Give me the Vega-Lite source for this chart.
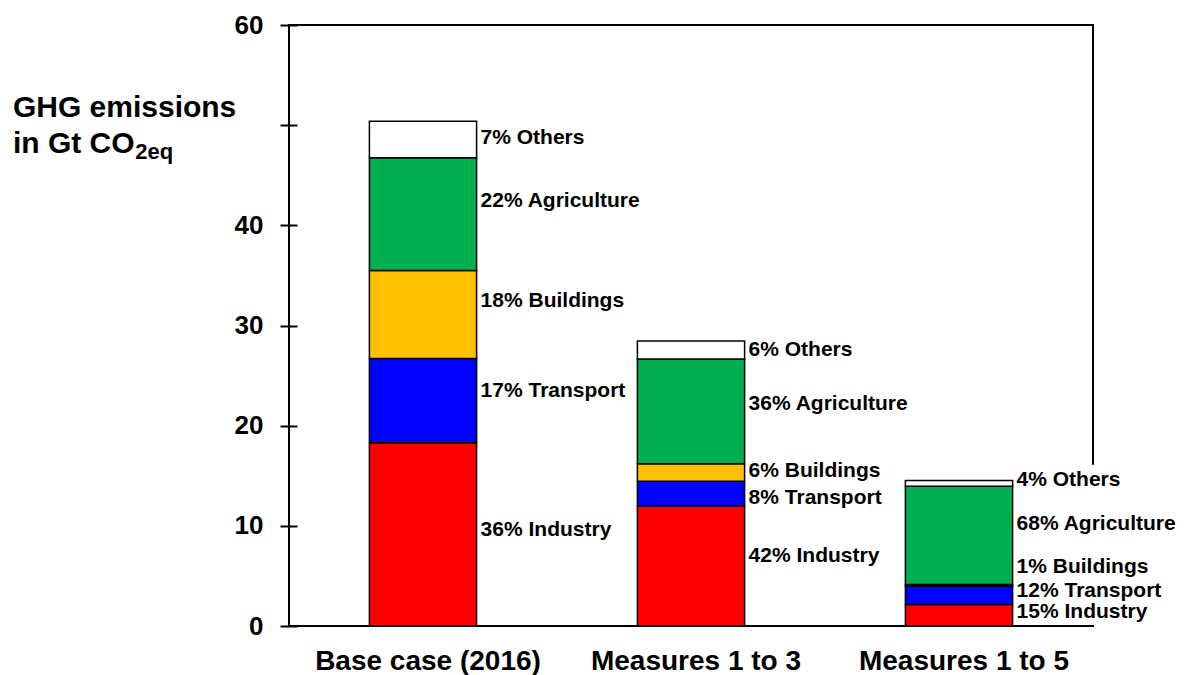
{
  "$schema": "https://vega.github.io/schema/vega-lite/v6.json",
  "width": 804,
  "height": 601,
  "autosize": "none",
  "padding": {"left": 289, "top": 25, "right": 91, "bottom": 49},
  "background": "white",
  "config": {"view": {"stroke": null}, "font": "Liberation Sans"},
  "datasets": {
    "emissions": [
      {"scenario": "Base case (2016)", "sector": "Industry", "k": 1, "value": 18.3},
      {"scenario": "Base case (2016)", "sector": "Transport", "k": 2, "value": 8.4},
      {"scenario": "Base case (2016)", "sector": "Buildings", "k": 3, "value": 8.8},
      {"scenario": "Base case (2016)", "sector": "Agriculture", "k": 4, "value": 11.25},
      {"scenario": "Base case (2016)", "sector": "Others", "k": 5, "value": 3.65},
      {"scenario": "Measures 1 to 3", "sector": "Industry", "k": 1, "value": 12.0},
      {"scenario": "Measures 1 to 3", "sector": "Transport", "k": 2, "value": 2.45},
      {"scenario": "Measures 1 to 3", "sector": "Buildings", "k": 3, "value": 1.75},
      {"scenario": "Measures 1 to 3", "sector": "Agriculture", "k": 4, "value": 10.45},
      {"scenario": "Measures 1 to 3", "sector": "Others", "k": 5, "value": 1.8},
      {"scenario": "Measures 1 to 5", "sector": "Industry", "k": 1, "value": 2.15},
      {"scenario": "Measures 1 to 5", "sector": "Transport", "k": 2, "value": 1.84},
      {"scenario": "Measures 1 to 5", "sector": "Buildings", "k": 3, "value": 0.15},
      {"scenario": "Measures 1 to 5", "sector": "Agriculture", "k": 4, "value": 9.82},
      {"scenario": "Measures 1 to 5", "sector": "Others", "k": 5, "value": 0.57}
    ],
    "labels": [
      {"scenario": "Base case (2016)", "label": "7% Others", "at": 48.7},
      {"scenario": "Base case (2016)", "label": "22% Agriculture", "at": 42.4},
      {"scenario": "Base case (2016)", "label": "18% Buildings", "at": 32.4},
      {"scenario": "Base case (2016)", "label": "17% Transport", "at": 23.5},
      {"scenario": "Base case (2016)", "label": "36% Industry", "at": 9.55},
      {"scenario": "Measures 1 to 3", "label": "6% Others", "at": 27.6},
      {"scenario": "Measures 1 to 3", "label": "36% Agriculture", "at": 22.2},
      {"scenario": "Measures 1 to 3", "label": "6% Buildings", "at": 15.5},
      {"scenario": "Measures 1 to 3", "label": "8% Transport", "at": 12.8},
      {"scenario": "Measures 1 to 3", "label": "42% Industry", "at": 7.0},
      {"scenario": "Measures 1 to 5", "label": "4% Others", "at": 14.6},
      {"scenario": "Measures 1 to 5", "label": "68% Agriculture", "at": 10.2},
      {"scenario": "Measures 1 to 5", "label": "1% Buildings", "at": 5.87},
      {"scenario": "Measures 1 to 5", "label": "12% Transport", "at": 3.54},
      {"scenario": "Measures 1 to 5", "label": "15% Industry", "at": 1.38}
    ],
    "frame": [
      {"side": "left", "xa": 0, "xb": 0, "ya": 0, "yb": 60},
      {"side": "top", "xa": 0, "xb": 1, "ya": 60, "yb": 60},
      {"side": "right", "xa": 1, "xb": 1, "ya": 16.2, "yb": 60},
      {"side": "bottom", "xa": 0, "xb": 1, "ya": 0, "yb": 0}
    ]
  },
  "resolve": {"scale": {"x": "independent"}, "axis": {"x": "independent"}},
  "layer": [
    {
      "data": {"name": "emissions"},
      "mark": {"type": "bar", "stroke": "black", "strokeWidth": 1.5},
      "encoding": {
        "x": {
          "field": "scenario",
          "type": "nominal",
          "sort": ["Base case (2016)", "Measures 1 to 3", "Measures 1 to 5"],
          "scale": {"type": "band", "paddingInner": 0.6, "paddingOuter": 0.3},
          "axis": {
            "orient": "bottom",
            "title": null,
            "domain": false,
            "ticks": false,
            "tickSize": 0,
            "labelPadding": 43,
            "labelBaseline": "alphabetic",
            "labelAngle": 0,
            "labelOffset": 5,
            "labelLimit": 0,
            "labelFontSize": 28,
            "labelFontWeight": "bold",
            "labelColor": "black",
            "labelFont": "Liberation Sans"
          }
        },
        "y": {
          "field": "value",
          "type": "quantitative",
          "stack": "zero",
          "scale": {"domain": [0, 60], "nice": false},
          "axis": {
            "values": [0, 10, 20, 30, 40, 50, 60],
            "labelExpr": "datum.value == 50 ? '' : datum.label",
            "domain": false,
            "grid": false,
            "offset": -8,
            "tickSize": 17,
            "tickWidth": 2,
            "tickColor": "black",
            "labelPadding": 17,
            "labelFontSize": 26,
            "labelFontWeight": "bold",
            "labelColor": "black",
            "labelFont": "Liberation Sans",
            "title": ["GHG emissions", "in Gt CO"],
            "titleAngle": 0,
            "titleAlign": "left",
            "titleBaseline": "alphabetic",
            "titleX": -284.6,
            "titleY": 91,
            "titleFontSize": 30,
            "titleFontWeight": "bold",
            "titleColor": "black",
            "titleLineHeight": 36,
            "titleFont": "Liberation Sans"
          }
        },
        "color": {
          "field": "sector",
          "type": "nominal",
          "scale": {
            "domain": ["Industry", "Transport", "Buildings", "Agriculture", "Others"],
            "range": ["#FF0000", "#0000FF", "#FFC000", "#00B050", "#FFFFFF"]
          },
          "legend": null
        },
        "order": {"field": "k", "type": "quantitative", "sort": "ascending"}
      }
    },
    {
      "data": {"name": "labels"},
      "mark": {"type": "text", "align": "left", "baseline": "middle", "dx": 4, "fontSize": 21, "fontWeight": "bold", "font": "Liberation Sans", "color": "black"},
      "encoding": {
        "x": {
          "field": "scenario",
          "type": "nominal",
          "sort": ["Base case (2016)", "Measures 1 to 3", "Measures 1 to 5"],
          "scale": {"type": "band", "paddingInner": 0.6, "paddingOuter": 0.3},
          "bandPosition": 1,
          "axis": null
        },
        "y": {"field": "at", "type": "quantitative"},
        "text": {"field": "label"}
      }
    },
    {
      "data": {"name": "frame"},
      "mark": {"type": "rule", "stroke": "black", "strokeWidth": 2, "strokeCap": "square"},
      "encoding": {
        "x": {
          "field": "xa",
          "type": "quantitative",
          "scale": {"domain": [0, 1], "nice": false, "zero": false},
          "axis": {
            "orient": "top",
            "title": "2eq",
            "domain": false,
            "ticks": false,
            "labels": false,
            "grid": false,
            "titleX": -154.3,
            "titleY": 133,
            "titleAlign": "left",
            "titleBaseline": "alphabetic",
            "titleAngle": 0,
            "titleFontSize": 22,
            "titleFontWeight": "bold",
            "titleColor": "black",
            "titleFont": "Liberation Sans"
          }
        },
        "x2": {"field": "xb"},
        "y": {"field": "ya", "type": "quantitative"},
        "y2": {"field": "yb"}
      }
    }
  ]
}
